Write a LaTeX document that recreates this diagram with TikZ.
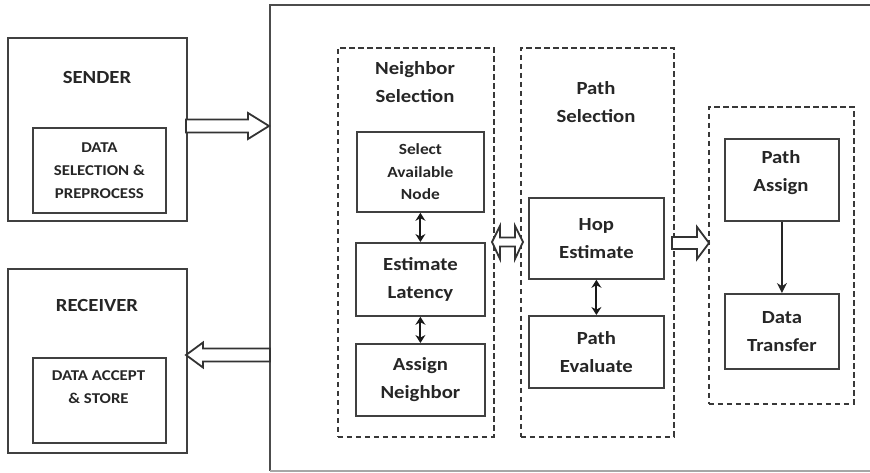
\documentclass[tikz,border=0pt]{standalone}
\usepackage{fontspec}
\setmainfont{Carlito}[FakeStretch=1.12]
\usetikzlibrary{arrows.meta}
\begin{document}
\begin{tikzpicture}[x=1pt,y=-1pt,
  solidbox/.style={draw=black!75, line width=1.8pt, inner sep=0pt, anchor=north west},
  dbox/.style={draw=black!78, line width=1.8pt, dash pattern=on 5.5pt off 3.5pt, inner sep=0pt, anchor=north west},
  bigtxt/.style={font=\bfseries\fontsize{18.5}{28}\selectfont, align=center, text=black!85},
  midtxt/.style={font=\bfseries\fontsize{15.5}{22.5}\selectfont, align=center, text=black!85},
  smalltxt/.style={font=\bfseries\fontsize{15}{23}\selectfont, align=center, text=black!85},
  blockarrow/.style={draw=black!80, line width=1.8pt, fill=white, line join=miter},
  dblarrow/.style={{Stealth[length=8pt,width=10pt]}-{Stealth[length=8pt,width=10pt]}, line width=2pt, draw=black!90},
  onearrow/.style={-{Stealth[length=10pt,width=10pt]}, line width=1.4pt, draw=black!85}
]
\useasboundingbox (0,0) rectangle (870,473);
\fill[white] (0,0) rectangle (870,473);

% main frame
\coordinate (frTR) at (870,5);
\coordinate (frTL) at (270,5);
\coordinate (frBL) at (270,471);
\coordinate (frBR) at (870,471);
\draw[line width=2pt, black!70] (frTR) -- (frTL) -- (frBL);
\draw[line width=1.6pt, black!35] (frBL) -- (frBR);

% sender
\node[solidbox, minimum width=179, minimum height=183] (sender) at (7,37) {};
\node[bigtxt] (sendert) at (97,77) {SENDER};
\node[solidbox, smalltxt, minimum width=133, minimum height=85] (dsel) at (32,127) {DATA\\SELECTION \&\\PREPROCESS};

% receiver
\node[solidbox, minimum width=179, minimum height=184] (receiver) at (7,268) {};
\node[bigtxt] (receivert) at (97,305) {RECEIVER};
\node[solidbox, minimum width=133, minimum height=85] (dacc) at (32,357) {};
\node[smalltxt] (dacct) at (98.5,387) {DATA ACCEPT\\\& STORE};

% dashed groups
\node[dbox, minimum width=156, minimum height=389] (nbr) at (337,47) {};
\node[bigtxt] (nbrt) at (415,82.5) {Neighbor\\Selection};
\node[dbox, minimum width=153, minimum height=389] (psel) at (520,47) {};
\node[bigtxt] (pselt) at (596,102) {Path\\Selection};
\node[dbox, minimum width=145, minimum height=297] (pout) at (708,106) {};

% inner boxes
\node[solidbox, midtxt, minimum width=127, minimum height=80] (avail) at (356,131) {Select\\Available\\Node};
\node[solidbox, bigtxt, minimum width=129, minimum height=73] (lat) at (355,242) {Estimate\\Latency};
\node[solidbox, bigtxt, minimum width=129, minimum height=72] (asn) at (355,343) {Assign\\Neighbor};
\node[solidbox, bigtxt, minimum width=135, minimum height=81] (hop) at (528,197) {Hop\\Estimate};
\node[solidbox, bigtxt, minimum width=135, minimum height=72] (peval) at (528,315) {Path\\Evaluate};
\node[solidbox, minimum width=114, minimum height=82] (passign) at (724,138) {};
\node[bigtxt] (passignt) at (781,172.5) {Path\\Assign};
\node[solidbox, bigtxt, minimum width=114, minimum height=75] (dtrans) at (724,293) {Data\\Transfer};

% small connectors
\draw[dblarrow] (avail.south) -- (lat.north);
\draw[dblarrow] (lat.south) -- (asn.north);
\draw[dblarrow] (hop.south) -- (peval.north);
\draw[onearrow] (passign.south) -- (dtrans.north);

% block arrows
\coordinate (sa) at (186,126);
\begin{scope}[shift={(sa)}]
\draw[blockarrow] (0,-6.5) -- (62,-6.5) -- (62,-13) -- (83,0) -- (62,13) -- (62,6.5) -- (0,6.5) -- cycle;
\end{scope}
\coordinate (ra) at (186,355);
\begin{scope}[shift={(ra)}]
\draw[blockarrow] (0,0) -- (17,-12.5) -- (17,-6.5) -- (84,-6.5) -- (84,6.5) -- (17,6.5) -- (17,12.5) -- cycle;
\end{scope}
\coordinate (ba) at (492,242);
\begin{scope}[shift={(ba)}]
\draw[blockarrow] (0,0) -- (8,-16) -- (8,-4.5) -- (23,-4.5) -- (23,-16) -- (31,0) -- (23,17) -- (23,4.5) -- (8,4.5) -- (8,17) -- cycle;
\end{scope}
\coordinate (pa) at (672,243);
\begin{scope}[shift={(pa)}]
\draw[blockarrow] (0,-6) -- (25,-6) -- (25,-16) -- (37,0) -- (25,16) -- (25,6) -- (0,6) -- cycle;
\end{scope}
\end{tikzpicture}
\end{document}
